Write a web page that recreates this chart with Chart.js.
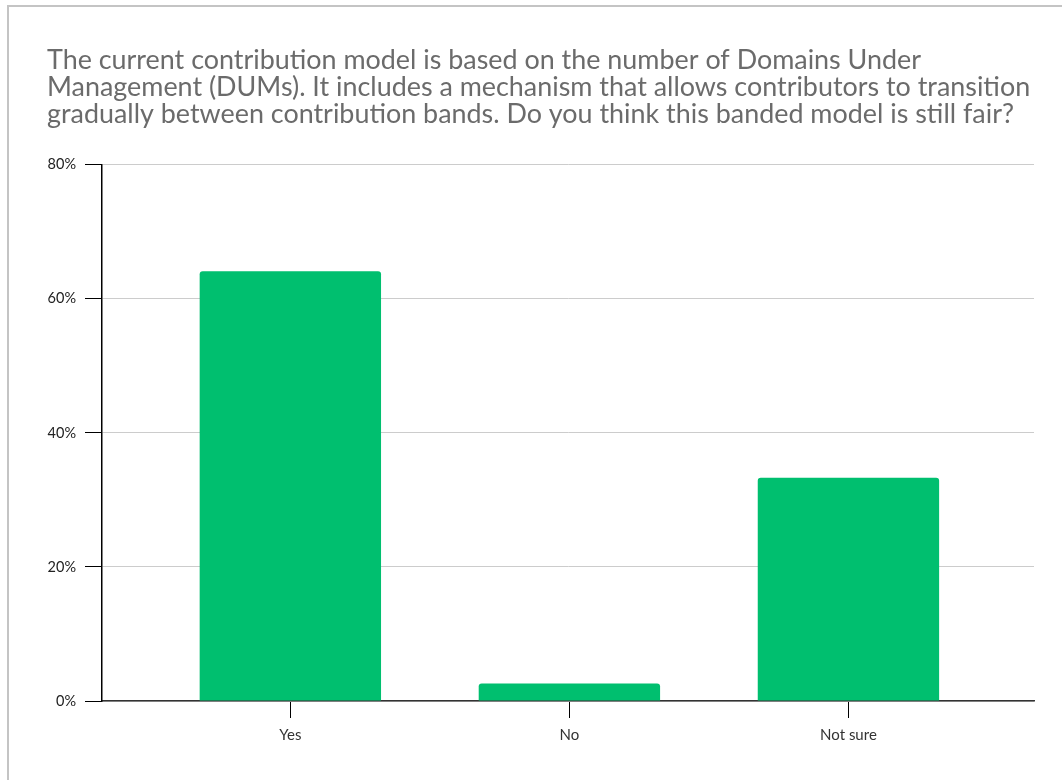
<!DOCTYPE html>
<html>
<head>
<meta charset="utf-8">
<script src="https://cdn.jsdelivr.net/npm/chart.js@4.4.1/dist/chart.umd.min.js"></script>
<style>
  html, body { margin: 0; padding: 0; background: #fff; }
  #frame {
    position: absolute; left: 7px; top: 5px; width: 1055px; height: 775px;
    border-top: 2px solid #c4c4c4; border-left: 2px solid #c4c4c4;
    box-sizing: border-box;
  }
  #wrap { position: absolute; left: 0; top: 0; width: 1053px; height: 773px; }
</style>
</head>
<body>
<div id="frame"><div id="wrap"><canvas id="chart"></canvas></div></div>
<script>
const titleLines = [
  'The current contribution model is based on the number of Domains Under',
  'Management (DUMs). It includes a mechanism that allows contributors to transition',
  'gradually between contribution bands. Do you think this banded model is still fair?'
];
const categories = ['Yes', 'No', 'Not sure'];
const percents = [64.1, 2.6, 33.3];
const yTicks = [0, 20, 40, 60, 80];

const font = 'Lato, "Open Sans", sans-serif';

new Chart(document.getElementById('chart'), {
  type: 'bar',
  data: {
    datasets: [{
      data: categories.map((c, i) => ({ x: i, y: percents[i] })),
      backgroundColor: '#00bf6f',
      borderRadius: { topLeft: 3, topRight: 3 },
      borderSkipped: 'start',
      barPercentage: 0.65,
      categoryPercentage: 1
    }]
  },
  options: {
    responsive: true,
    maintainAspectRatio: false,
    animation: false,
    layout: { padding: { left: 38, right: 28, top: 0, bottom: 28 } },
    plugins: {
      legend: { display: false },
      tooltip: { enabled: false },
      title: {
        display: true,
        text: titleLines,
        align: 'start',
        color: '#6b6b6b',
        font: { family: font, size: 26.9, weight: 'normal', lineHeight: 1.0 },
        padding: { top: 40, bottom: 37 }
      }
    },
    scales: {
      x: {
        type: 'linear',
        offset: false,
        min: -0.675,
        max: 2.665,
        grid: { offset: false, drawOnChartArea: false, tickColor: '#000', tickLength: 17 },
        border: { color: '#333', width: 1.5 },
        ticks: {
          includeBounds: false,
          stepSize: 1,
          autoSkip: false,
          maxRotation: 0,
          color: '#333',
          padding: 8,
          font: { family: font, size: 15 },
          callback: v => categories[v] !== undefined ? categories[v] : ''
        }
      },
      y: {
        min: yTicks[0],
        max: yTicks[yTicks.length - 1],
        afterBuildTicks: axis => { axis.ticks = yTicks.map(v => ({ value: v })); },
        afterFit: axis => { axis.width = 55; },
        grid: { color: '#cccccc', tickColor: '#000', tickLength: 17 },
        border: { color: '#000', width: 1.5 },
        ticks: {
          color: '#222',
          padding: 9,
          font: { family: font, size: 14.5 },
          callback: v => v + '%'
        }
      }
    }
  }
});
</script>
</body>
</html>
